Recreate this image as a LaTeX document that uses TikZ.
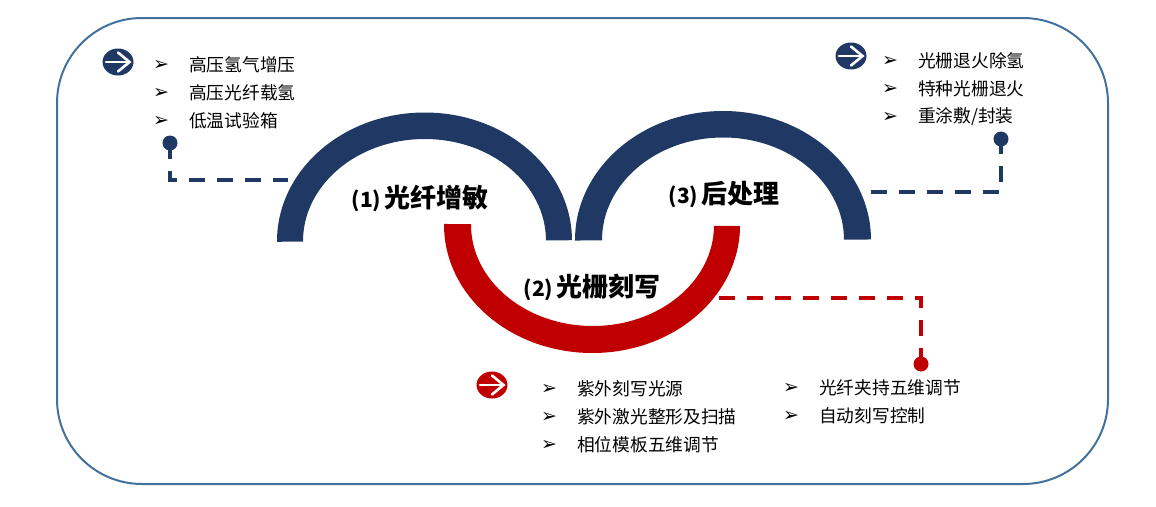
\documentclass[tikz,border=0pt]{standalone}
\usepackage{fontspec}
\newfontfamily\cjk{Noto Sans CJK SC}
\newfontfamily\sym{DejaVu Sans}
\definecolor{navy}{HTML}{1F3864}
\definecolor{crim}{HTML}{C00000}
\definecolor{frame}{HTML}{41719C}
\usetikzlibrary{shapes.geometric}
\tikzset{
  band/.style={fill=#1,draw=none},
  lead/.style={draw=#1,line width=4pt,dash pattern=on 16pt off 12pt},
  pin/.style={circle,fill=#1,draw=none,inner sep=0pt,minimum size=15pt},
  disc/.style={ellipse,fill=#1,draw=none,inner sep=0pt,minimum width=31pt,minimum height=27pt},
  lst/.style={anchor=west,inner sep=0pt,font=\cjk\fontsize{17.7}{19}\selectfont},
  bul/.style={inner sep=0pt,font=\sym\bfseries\fontsize{19}{21}\selectfont},
  ttl/.style={inner sep=0pt,font=\fontsize{26}{28}\selectfont},
  arw/.style={draw=white,line width=2.6pt,line cap=round,line join=miter}
}
\newcommand{\ttlt}[2]{{\cjk\bfseries\fontsize{21}{26}\selectfont #1}\hspace{3pt}{\cjk\bfseries\fontsize{26}{28}\selectfont #2}}
\newcommand{\wharrow}[1]{%
  \draw[arw] ([xshift=-12pt]#1.center) -- ([xshift=11pt]#1.center);
  \draw[arw] ([shift={(0pt,-9.5pt)}]#1.center) -- ([xshift=11.5pt]#1.center) -- ([shift={(0pt,9.5pt)}]#1.center);
}
\begin{document}
\begin{tikzpicture}[x=1pt,y=1pt,yscale=-1]
\useasboundingbox (0,0) rectangle (1156,506);
\draw[frame,line width=2pt,rounded corners=85pt] (57,18) rectangle (1108,484);
% bands
\fill[band=navy,rotate around={-0.3:(424.5,241)}] (277,241) arc[start angle=180,end angle=360,x radius=147.5,y radius=128.5] -- (546,241) arc[start angle=360,end angle=180,x radius=121.5,y radius=102] -- cycle;
\fill[band=navy,rotate around={-0.2:(723,240)}] (575,240) arc[start angle=180,end angle=360,x radius=148,y radius=129] -- (844,240) arc[start angle=360,end angle=180,x radius=121,y radius=102.5] -- cycle;
\fill[band=crim,rotate around={0.4:(592,225)}] (444,225) arc[start angle=180,end angle=0,x radius=148,y radius=128] -- (714,225) arc[start angle=0,end angle=180,x radius=121.5,y radius=101] -- cycle;
% titles
\node[ttl] (t1) at (420,198) {\ttlt{(1)}{光纤增敏}};
\node[ttl] (t3) at (724,195) {\ttlt{(3)}{后处理}};
\node[ttl] (t2) at (592,287) {\ttlt{(2)}{光栅刻写}};
% pins and anchors
\node[pin=navy] (p1) at (170,143) {};
\node[pin=navy] (p3) at (1001,139) {};
\node[pin=crim] (p2) at (921,364) {};
\coordinate (e1) at (288,180);
\coordinate (e3) at (871,192);
\coordinate (e2) at (719,298);
\draw[lead=navy,dash phase=0pt] (p1.center) |- (e1);
\draw[lead=navy,dash phase=1pt] (p3.center) |- (e3);
\draw[lead=crim] (e2) -| (p2.center);
% arrow discs
\node[disc=navy] (d1) at (118,62) {};
\node[disc=navy] (d3) at (851,56) {};
\node[disc=crim] (d2) at (492,385) {};
\wharrow{d1}\wharrow{d3}\wharrow{d2}
% lists
\node[bul] (b11) at (161,65) {➢};
\node[bul] (b12) at (161,93) {➢};
\node[bul] (b13) at (161,121) {➢};
\node[lst] (l11) at (189,64.5) {高压氢气增压};
\node[lst] (l12) at (189,92.5) {高压光纤载氢};
\node[lst] (l13) at (189,120.5) {低温试验箱};
\node[bul] (b31) at (890,61) {➢};
\node[bul] (b32) at (890,89) {➢};
\node[bul] (b33) at (890,117) {➢};
\node[lst] (l31) at (918,60.5) {光栅退火除氢};
\node[lst] (l32) at (918,88.5) {特种光栅退火};
\node[lst] (l33) at (918,116.5) {重涂敷/封装};
\node[bul] (b21) at (549,389) {➢};
\node[bul] (b22) at (549,417) {➢};
\node[bul] (b23) at (549,445) {➢};
\node[lst] (l21) at (577,388.5) {紫外刻写光源};
\node[lst] (l22) at (577,416.5) {紫外激光整形及扫描};
\node[lst] (l23) at (577,444.5) {相位模板五维调节};
\node[bul] (b24) at (791,388) {➢};
\node[bul] (b25) at (791,416) {➢};
\node[lst] (l24) at (819,387.5) {光纤夹持五维调节};
\node[lst] (l25) at (819,415.5) {自动刻写控制};
\end{tikzpicture}
\end{document}
